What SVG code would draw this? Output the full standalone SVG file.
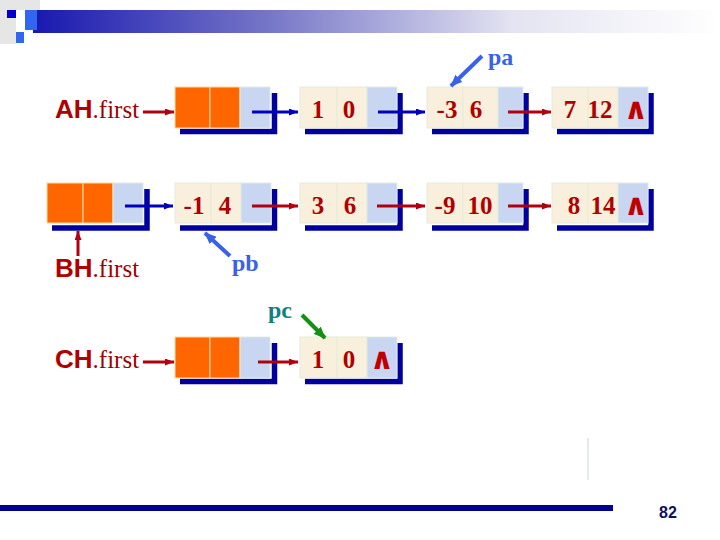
<svg xmlns="http://www.w3.org/2000/svg" width="720" height="540" viewBox="0 0 720 540">
<style>
.c1{fill:#F8F0DC;stroke:#E4ECD8;stroke-width:1}
.cb{fill:#C8D6F2;stroke:#E4ECD8;stroke-width:1}
.co{fill:#FF6600;stroke:#FFD8A0;stroke-width:1}
.sh{fill:none;stroke:#0000A0;stroke-width:5.5}
.d{font-family:"Liberation Serif",serif;font-weight:bold;font-size:25px;fill:#B00000;text-anchor:middle}
.nil{font-family:"DejaVu Sans",sans-serif;font-weight:bold;font-size:30px;fill:#C00000;text-anchor:middle}
.lb{font-family:"Liberation Sans",sans-serif;font-weight:bold;font-size:26px;fill:#B00000}
.lf{font-family:"Liberation Serif",serif;font-size:25px;fill:#A00000}
.bl{stroke:#0000B8;stroke-width:3;fill:none;marker-end:url(#ab)}
.rd{stroke:#B00010;stroke-width:3;fill:none;marker-end:url(#ar)}
.pt{font-family:"Liberation Serif",serif;font-weight:bold;font-size:24px}
</style>
<defs>
<linearGradient id="hg" x1="0" y1="0" x2="1" y2="0">
<stop offset="0" stop-color="#1818B0"/>
<stop offset="0.35" stop-color="#7878C8"/>
<stop offset="0.7" stop-color="#E4E4F2"/>
<stop offset="1" stop-color="#FFFFFF"/>
</linearGradient>
<marker id="ab" markerUnits="userSpaceOnUse" markerWidth="9" markerHeight="7" refX="9" refY="3.5" orient="auto"><path d="M0,0 L9,3.5 L0,7 z" fill="#0000B8"/></marker>
<marker id="ar" markerUnits="userSpaceOnUse" markerWidth="9" markerHeight="7" refX="9" refY="3.5" orient="auto"><path d="M0,0 L9,3.5 L0,7 z" fill="#B00010"/></marker>
<marker id="ap" markerUnits="userSpaceOnUse" markerWidth="12" markerHeight="10" refX="11" refY="5" orient="auto"><path d="M0,0 L12,5 L0,10 z" fill="#3A62E6"/></marker>
<marker id="ag" markerUnits="userSpaceOnUse" markerWidth="12" markerHeight="10" refX="11" refY="5" orient="auto"><path d="M0,0 L12,5 L0,10 z" fill="#149014"/></marker>
</defs>

<g id="header">
<rect x="0" y="0" width="16" height="44" fill="#E6E6E6"/>
<rect x="16" y="0" width="24" height="10" fill="#E6E6E6"/>
<rect x="33" y="10" width="687" height="23" fill="url(#hg)"/>
<rect x="7" y="10" width="9" height="8" fill="#0000CC"/>
<rect x="25" y="10" width="12" height="20" fill="#3366EE"/>
<rect x="16" y="32" width="8" height="11" fill="#3366EE"/>
</g>

<g id="AH-label"><text x="55" y="118"><tspan class="lb">AH</tspan><tspan class="lf">.first</tspan></text></g>
<g id="BH-label"><text x="55" y="277"><tspan class="lb">BH</tspan><tspan class="lf">.first</tspan></text></g>
<g id="CH-label"><text x="55" y="368"><tspan class="lb">CH</tspan><tspan class="lf">.first</tspan></text></g>

<g id="headA" transform="translate(175,87)">
<path class="sh" d="M5,44.5 H99.5 V6"/>
<rect class="co" x="0" y="0" width="35" height="41"/><rect class="co" x="35" y="0" width="30" height="41"/><rect class="cb" x="65" y="0" width="30" height="41"/>
</g>
<g id="A1" transform="translate(300,87)">
<path class="sh" d="M5,44.5 H100 V6"/>
<rect class="c1" x="0" y="0" width="37" height="41"/><rect class="c1" x="37" y="0" width="30" height="41"/><rect class="cb" x="67" y="0" width="30" height="41"/>
<text class="d" x="18" y="31">1</text><text class="d" x="49" y="31">0</text>
</g>
<g id="A2" transform="translate(427,87)">
<path class="sh" d="M5,44.5 H99 V6"/>
<rect class="c1" x="0" y="0" width="36" height="41"/><rect class="c1" x="36" y="0" width="35" height="41"/><rect class="cb" x="71" y="0" width="25" height="41"/>
<text class="d" x="20" y="31">-3</text><text class="d" x="49" y="31">6</text>
</g>
<g id="A3" transform="translate(552,87)">
<path class="sh" d="M5,44.5 H99 V6"/>
<rect class="c1" x="0" y="0" width="36" height="41"/><rect class="c1" x="36" y="0" width="30" height="41"/><rect class="cb" x="66" y="0" width="30" height="41"/>
<text class="d" x="18" y="31">7</text><text class="d" x="48" y="31">12</text><text class="nil" x="84" y="32">∧</text>
</g>

<g id="headB" transform="translate(47,183)">
<path class="sh" d="M5,45 H100 V6"/>
<rect class="co" x="0" y="0" width="36" height="40"/><rect class="co" x="36" y="0" width="30" height="40"/><rect class="cb" x="66" y="0" width="30" height="40"/>
</g>
<g id="B1" transform="translate(175,183)">
<path class="sh" d="M5,45 H99.5 V6"/>
<rect class="c1" x="0" y="0" width="36" height="40"/><rect class="c1" x="36" y="0" width="30" height="40"/><rect class="cb" x="66" y="0" width="30" height="40"/>
<text class="d" x="19" y="31">-1</text><text class="d" x="50" y="31">4</text>
</g>
<g id="B2" transform="translate(300,183)">
<path class="sh" d="M5,45 H100 V6"/>
<rect class="c1" x="0" y="0" width="37" height="40"/><rect class="c1" x="37" y="0" width="30" height="40"/><rect class="cb" x="67" y="0" width="30" height="40"/>
<text class="d" x="18" y="31">3</text><text class="d" x="50" y="31">6</text>
</g>
<g id="B3" transform="translate(427,183)">
<path class="sh" d="M5,45 H99 V6"/>
<rect class="c1" x="0" y="0" width="36" height="40"/><rect class="c1" x="36" y="0" width="35" height="40"/><rect class="cb" x="71" y="0" width="25" height="40"/>
<text class="d" x="18" y="31">-9</text><text class="d" x="53" y="31">10</text>
</g>
<g id="B4" transform="translate(552,183)">
<path class="sh" d="M5,45 H99 V6"/>
<rect class="c1" x="0" y="0" width="36" height="40"/><rect class="c1" x="36" y="0" width="30" height="40"/><rect class="cb" x="66" y="0" width="30" height="40"/>
<text class="d" x="22" y="31">8</text><text class="d" x="51" y="31">14</text><text class="nil" x="84" y="32">∧</text>
</g>

<g id="headC" transform="translate(175,337)">
<path class="sh" d="M5,44.5 H99.5 V6"/>
<rect class="co" x="0" y="0" width="35" height="41"/><rect class="co" x="35" y="0" width="30" height="41"/><rect class="cb" x="65" y="0" width="30" height="41"/>
</g>
<g id="C1" transform="translate(300,337)">
<path class="sh" d="M5,44.5 H100 V6"/>
<rect class="c1" x="0" y="0" width="37" height="41"/><rect class="c1" x="37" y="0" width="30" height="41"/><rect class="cb" x="67" y="0" width="30" height="41"/>
<text class="d" x="18" y="31">1</text><text class="d" x="49" y="31">0</text><text class="nil" x="82" y="32">∧</text>
</g>

<g id="pointer-labels">
<text class="pt" x="488" y="65" fill="#3A62E6">pa</text>
<text class="pt" x="232" y="271" fill="#3A62E6">pb</text>
<text class="pt" x="268" y="318" fill="#108080">pc</text>
</g>

<g id="connectors">
<line class="rd" x1="143" y1="112" x2="174" y2="112"/>
<line class="bl" x1="252" y1="112" x2="298" y2="112"/>
<line class="bl" x1="378" y1="112" x2="425" y2="112"/>
<line class="rd" x1="508" y1="112" x2="551" y2="112"/>
<line class="rd" x1="78" y1="256" x2="78" y2="231"/>
<line class="bl" x1="125" y1="206" x2="173" y2="206"/>
<line class="rd" x1="252" y1="206" x2="298" y2="206"/>
<line class="rd" x1="377" y1="206" x2="425" y2="206"/>
<line class="rd" x1="508" y1="206" x2="551" y2="206"/>
<line class="rd" x1="143" y1="362" x2="174" y2="362"/>
<line class="rd" x1="258" y1="362" x2="298" y2="362"/>
<line x1="482" y1="56" x2="451" y2="86" stroke="#3A62E6" stroke-width="4" marker-end="url(#ap)"/>
<line x1="230" y1="256" x2="205" y2="233" stroke="#3A62E6" stroke-width="4" marker-end="url(#ap)"/>
<line x1="302" y1="315" x2="325" y2="338" stroke="#149014" stroke-width="4" marker-end="url(#ag)"/>
</g>

<g id="footer">
<line x1="588" y1="438" x2="588" y2="480" stroke="#D8E4DC" stroke-width="1.5"/>
<rect x="0" y="505" width="613" height="6" fill="#000090"/>
<text x="668" y="518" font-family="Liberation Sans, sans-serif" font-weight="bold" font-size="16" fill="#101060" text-anchor="middle">82</text>
</g>
</svg>
